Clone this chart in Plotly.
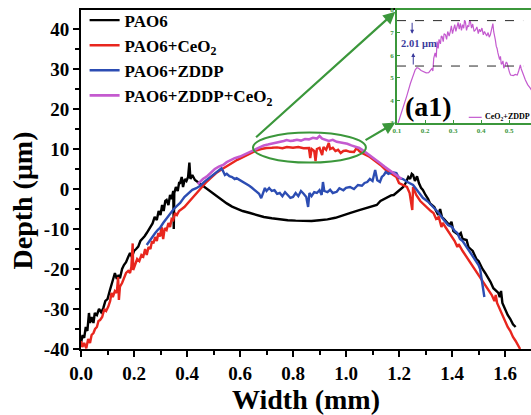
import plotly.graph_objects as go

# ---------------- data ----------------
pao6_x = [0.000,0.006,0.012,0.018,0.024,0.030,0.034,0.040,0.047,0.052,0.060,0.068,0.076,0.084,0.092,0.100,
          0.109,0.115,0.122,0.128,0.135,0.142,0.147,0.155,0.162,0.170,0.178,0.185,0.192,0.200,0.208,0.216,
          0.224,0.232,0.240,0.248,0.256,0.262,0.270,0.278,0.286,0.293,0.300,0.306,0.312,0.318,0.323,0.330,
          0.336,0.342,0.348,0.350,0.352,0.358,0.365,0.370,0.374,0.380,0.385,0.392,0.398,0.404,0.409,0.413,
          0.420,0.430,0.445,0.460,0.474,0.490,0.510,0.530,0.550,0.570,0.590,0.610,0.638,0.660,0.690,0.720,
          0.750,0.780,0.810,0.840,0.870,0.900,0.930,0.960,0.990,1.020,1.050,1.080,1.100,1.116,1.130,1.150,
          1.170,1.180,1.200,1.216,1.225,1.235,1.242,1.248,1.253,1.260,1.268,1.275,1.283,1.290,1.300,1.310,
          1.317,1.325,1.333,1.340,1.348,1.355,1.362,1.370,1.380,1.390,1.398,1.405,1.415,1.425,1.433,1.440,
          1.455,1.462,1.470,1.478,1.485,1.492,1.500,1.506,1.515,1.525,1.535,1.545,1.556,1.565,1.575,1.580,
          1.585,1.590,1.600,1.610,1.620,1.630,1.640]
pao6_y = [-38.5,-36.5,-37.2,-34.5,-35.5,-31.0,-33.5,-32.0,-33.5,-31.0,-31.5,-30.0,-30.8,-29.8,-28.0,-27.5,
          -25.3,-24.0,-21.9,-21.0,-22.5,-21.5,-22.3,-20.0,-19.0,-18.3,-17.0,-16.0,-17.0,-15.5,-15.0,-14.4,
          -13.0,-12.5,-11.8,-11.0,-10.0,-9.4,-8.6,-7.0,-7.75,-5.5,-6.5,-4.0,-5.5,-3.0,-2.75,-4.0,
          -1.5,-2.5,-0.5,-10.0,-1.0,0.5,-0.5,1.5,1.5,3.0,0.5,2.5,2.0,3.0,6.6,2.5,
          3.5,2.25,1.5,0.8,0.2,-0.8,-1.8,-2.8,-3.6,-4.4,-5.0,-5.5,-6.0,-6.5,-7.0,-7.3,
          -7.6,-7.8,-7.9,-8.0,-8.0,-7.8,-7.6,-7.2,-6.5,-5.9,-5.3,-4.7,-4.2,-4.0,-3.0,-2.3,
          -1.6,-1.5,-0.3,0.5,1.5,3.0,2.5,3.8,3.5,2.0,3.2,1.5,0.3,-0.25,-1.5,-2.5,
          -3.6,-4.0,-4.5,-5.5,-6.5,-5.0,-7.0,-7.5,-8.2,-9.0,-8.2,-10.5,-11.0,-11.5,-11.0,-12.5,
          -12.75,-14.5,-15.0,-15.5,-16.5,-17.5,-18.0,-19.0,-20.0,-21.0,-22.0,-23.2,-24.8,-25.5,-26.0,-27.0,
          -25.5,-28.5,-30.0,-31.5,-32.5,-33.8,-34.5]

ceo2_x = [0.000,0.005,0.012,0.020,0.027,0.034,0.040,0.047,0.053,0.060,0.066,0.072,0.080,0.088,0.095,0.103,
          0.110,0.115,0.120,0.128,0.135,0.140,0.143,0.147,0.155,0.162,0.170,0.178,0.185,0.190,0.195,0.197,
          0.205,0.212,0.220,0.228,0.235,0.242,0.248,0.255,0.262,0.268,0.273,0.280,0.286,0.292,0.298,0.304,
          0.310,0.316,0.323,0.330,0.336,0.342,0.348,0.355,0.362,0.370,0.390,0.410,0.425,0.440,0.455,0.474,
          0.490,0.510,0.530,0.550,0.570,0.590,0.610,0.638,0.660,0.680,0.700,0.720,0.740,0.760,0.777,0.800,
          0.820,0.840,0.860,0.865,0.870,0.880,0.885,0.890,0.900,0.910,0.915,0.925,0.935,0.940,0.950,0.960,
          0.970,0.980,0.990,1.000,1.015,1.030,1.040,1.050,1.060,1.075,1.090,1.110,1.130,1.150,1.170,1.190,
          1.200,1.215,1.230,1.240,1.250,1.253,1.265,1.280,1.295,1.310,1.320,1.330,1.340,1.350,1.360,1.365,
          1.380,1.390,1.400,1.410,1.420,1.425,1.440,1.455,1.470,1.485,1.495,1.506,1.520,1.535,1.550,1.560,
          1.565,1.570,1.580,1.590,1.600,1.610,1.620,1.630,1.640,1.650,1.657]
ceo2_y = [-38.0,-39.5,-38.5,-39.8,-37.5,-38.5,-36.5,-36.0,-35.0,-34.5,-33.0,-32.75,-32.0,-30.0,-30.5,-29.4,
          -28.0,-26.0,-27.0,-25.5,-26.0,-22.0,-27.75,-24.4,-23.5,-22.5,-21.0,-20.5,-21.0,-19.5,-13.6,-20.25,
          -18.5,-17.5,-18.0,-16.5,-16.9,-15.0,-16.5,-14.5,-15.0,-13.0,-13.6,-12.0,-13.0,-11.0,-11.9,-9.5,
          -12.5,-9.8,-10.25,-8.5,-9.5,-7.5,-7.75,-6.0,-6.5,-5.5,-4.5,-3.0,-1.8,-0.5,0.5,1.8,
          2.8,4.0,4.9,5.6,6.5,7.3,8.0,9.0,9.6,10.0,10.25,10.3,10.4,10.2,10.5,10.3,
          10.5,10.2,10.25,7.75,10.0,9.5,7.0,10.0,10.3,8.5,10.5,9.8,11.5,10.0,10.3,9.5,
          9.8,9.0,9.5,9.6,9.3,9.25,10.25,9.5,9.0,8.5,8.0,7.0,6.0,4.75,3.8,3.0,
          1.5,1.0,0.5,-1.0,-5.25,0.5,-1.5,-3.0,-4.0,-5.0,-5.5,-6.0,-7.5,-7.0,-9.5,-8.5,
          -10.0,-11.0,-12.0,-13.0,-14.5,-13.8,-15.5,-17.0,-18.5,-20.0,-21.0,-22.0,-23.5,-25.0,-26.5,-28.0,
          -26.5,-28.5,-30.0,-31.5,-33.0,-34.5,-35.5,-37.0,-38.0,-39.2,-40.0]

zddp_x = [0.248,0.260,0.270,0.280,0.290,0.298,0.310,0.320,0.335,0.350,0.362,0.374,0.390,0.405,0.420,0.435,
          0.450,0.465,0.480,0.500,0.515,0.525,0.530,0.535,0.543,0.550,0.560,0.570,0.580,0.587,0.600,0.612,
          0.625,0.635,0.645,0.655,0.663,0.672,0.680,0.687,0.694,0.700,0.710,0.720,0.730,0.740,0.750,0.760,
          0.770,0.780,0.790,0.800,0.810,0.820,0.830,0.840,0.850,0.857,0.862,0.870,0.880,0.890,0.900,0.908,
          0.913,0.918,0.930,0.940,0.950,0.965,0.975,0.990,1.000,1.015,1.030,1.045,1.060,1.070,1.080,1.090,
          1.100,1.110,1.118,1.128,1.135,1.143,1.150,1.160,1.175,1.190,1.200,1.215,1.230,1.253,1.270,1.290,
          1.310,1.330,1.350,1.370,1.385,1.400,1.410,1.420,1.430,1.440,1.455,1.470,1.480,1.490,1.500,1.506,
          1.512,1.518,1.522]
zddp_y = [-14.0,-12.8,-11.8,-11.0,-10.2,-9.75,-8.5,-7.6,-6.2,-5.0,-4.2,-3.5,-2.0,-1.0,-0.2,0.2,
          0.8,1.8,2.6,3.5,4.3,4.9,5.2,4.6,3.5,3.8,3.2,3.0,2.5,2.7,2.2,1.8,
          1.4,0.8,0.3,-0.2,-0.7,-1.2,-2.3,-1.0,0.25,-0.5,0.25,-0.5,-0.3,-1.2,-1.0,-1.8,
          -0.8,-1.5,-2.2,-2.0,-1.0,-1.8,-0.5,-1.2,-2.0,-4.5,-1.0,-1.8,-0.8,-1.0,-0.3,-1.5,
          1.75,-0.5,-0.8,-0.2,-1.0,-0.7,0.2,-0.3,0.3,0.5,0.0,1.0,0.8,1.5,1.75,2.5,
          2.0,4.75,2.2,1.75,3.0,3.5,4.25,3.8,4.2,4.0,2.75,2.5,1.8,1.0,-0.5,-2.2,
          -3.2,-4.5,-6.0,-7.8,-9.0,-9.5,-10.5,-11.0,-12.5,-13.0,-14.5,-16.0,-17.0,-18.0,-19.0,-20.0,
          -22.5,-25.0,-27.0]

both_x = [0.440,0.460,0.474,0.490,0.505,0.520,0.536,0.550,0.565,0.580,0.600,0.620,0.640,0.663,0.675,0.690,
          0.705,0.720,0.735,0.750,0.765,0.776,0.790,0.800,0.815,0.830,0.845,0.860,0.875,0.890,0.900,0.910,
          0.920,0.935,0.950,0.965,0.980,0.990,1.005,1.020,1.035,1.050,1.065,1.080,1.095,1.110,1.128,1.145,
          1.160,1.180,1.200,1.210]
both_y = [1.2,2.5,3.1,4.2,5.0,5.6,6.0,6.7,7.3,7.7,8.1,8.7,9.2,10.0,10.3,10.9,
          11.1,11.3,11.5,11.8,12.0,12.25,12.0,12.1,12.3,12.1,12.5,12.4,12.8,12.6,13.25,12.6,
          12.3,12.0,12.3,11.8,11.6,11.5,11.3,10.9,10.6,10.25,9.6,8.9,8.1,7.3,6.5,5.6,
          4.9,4.0,3.0,2.5]

inset_x = [0.104,0.112,0.124,0.135,0.148,0.158,0.165,0.171,0.177,0.186,0.195,0.204,0.213,0.220,0.225,0.228,
           0.231,0.236,0.240,0.243,0.247,0.250,0.255,0.258,0.261,0.265,0.268,0.273,0.277,0.281,0.286,0.290,
           0.294,0.298,0.302,0.306,0.310,0.314,0.318,0.322,0.326,0.330,0.334,0.338,0.341,0.344,0.348,0.352,
           0.356,0.359,0.362,0.366,0.370,0.375,0.380,0.385,0.390,0.394,0.398,0.403,0.408,0.412,0.415,0.420,
           0.425,0.429,0.433,0.438,0.442,0.445,0.448,0.451,0.454,0.457,0.460,0.463,0.466,0.469,0.472,0.475,
           0.478,0.481,0.486,0.490,0.493,0.497,0.501,0.505,0.515,0.522,0.529,0.534,0.537,0.540,0.543,0.546,
           0.552,0.558,0.566,0.576,0.580]
inset_y = [3.0,3.3,3.72,4.2,4.76,5.1,5.35,5.45,5.42,5.32,5.27,5.22,5.23,5.32,5.42,5.3,
           5.86,6.1,5.9,6.6,6.3,6.7,6.5,6.85,6.82,6.6,6.95,6.9,6.7,7.05,6.85,7.04,
           7.3,6.95,7.19,7.35,7.05,7.26,7.45,7.15,7.41,7.1,7.35,7.19,7.55,7.48,7.1,7.3,
           7.26,7.55,7.48,7.2,7.38,7.05,7.12,7.25,6.95,7.15,7.04,7.2,6.9,7.05,6.97,6.85,
           7.0,6.8,6.9,7.15,7.4,7.04,6.9,6.67,6.4,6.3,6.1,5.93,5.8,5.95,5.6,5.64,
           5.75,5.42,5.55,5.7,5.64,5.4,5.25,5.12,5.1,5.15,5.12,5.3,5.5,5.57,5.4,5.27,
           5.1,4.9,4.7,4.53,4.45]

x_ticks = [0.0, 0.2, 0.4, 0.6, 0.8, 1.0, 1.2, 1.4, 1.6]
y_ticks = [-40, -30, -20, -10, 0, 10, 20, 30, 40]
inset_xticks = [0.1, 0.2, 0.3, 0.4, 0.5]
inset_yticks = [3, 4, 5, 6, 7, 8]
inset_level_hi = 7.53
inset_level_lo = 5.52

# ---------------- styling ----------------
BLACK = "#000000"
RED = "#e8261e"
BLUE = "#2c4db3"
VIOLET = "#c45acf"
GREEN = "#3b973b"
NAVY = "#3a3a9c"
FONT = "Liberation Serif"

fig = go.Figure()
fig.add_trace(go.Scatter(x=pao6_x, y=pao6_y, mode="lines", name="PAO6",
                         line=dict(color=BLACK, width=2.4), legendrank=1))
fig.add_trace(go.Scatter(x=ceo2_x, y=ceo2_y, mode="lines", name="PAO6+CeO<sub>2</sub>",
                         line=dict(color=RED, width=2.4), legendrank=2))
fig.add_trace(go.Scatter(x=zddp_x, y=zddp_y, mode="lines", name="PAO6+ZDDP",
                         line=dict(color=BLUE, width=2.4), legendrank=3))
fig.add_trace(go.Scatter(x=both_x, y=both_y, mode="lines", name="PAO6+ZDDP+CeO<sub>2</sub>",
                         line=dict(color=VIOLET, width=2.6), legendrank=4))
fig.add_trace(go.Scatter(x=inset_x, y=inset_y, mode="lines", name="CeO2+ZDDP",
                         line=dict(color=VIOLET, width=1.2), xaxis="x2", yaxis="y2",
                         showlegend=False))

# dashed level lines in inset
for lv in (inset_level_hi, inset_level_lo):
    fig.add_shape(type="line", xref="x2", yref="y2", x0=0.1, x1=0.55, y0=lv, y1=lv,
                  line=dict(color="#2a2a2a", width=1, dash="dash"))

# ellipse on main plot
fig.add_shape(type="circle", xref="x", yref="y", x0=0.649, x1=1.075, y0=6.6, y1=14.1,
              line=dict(color=GREEN, width=2))

ann = []
# green zoom arrows
ann.append(dict(xref="x", yref="y", axref="x", ayref="y", x=1.186, y=44.3, ax=0.655, ay=12.6,
                showarrow=True, arrowhead=2, arrowsize=1.1, arrowwidth=2.2, arrowcolor=GREEN, text=""))
ann.append(dict(xref="x", yref="y", axref="x", ayref="y", x=1.186, y=16.6, ax=1.068, ay=12.0,
                showarrow=True, arrowhead=2, arrowsize=1.1, arrowwidth=2.2, arrowcolor=GREEN, text=""))
# inset arrows and label
ann.append(dict(xref="x2", yref="y2", axref="x2", ayref="y2", x=0.154, y=6.95, ax=0.154, ay=7.5,
                showarrow=True, arrowhead=2, arrowsize=0.8, arrowwidth=1, arrowcolor=NAVY, text=""))
ann.append(dict(xref="x2", yref="y2", axref="x2", ayref="y2", x=0.158, y=6.1, ax=0.158, ay=5.52,
                showarrow=True, arrowhead=2, arrowsize=0.8, arrowwidth=1, arrowcolor=NAVY, text=""))
ann.append(dict(xref="x2", yref="y2", x=0.18, y=6.52, text="2.01 μm", showarrow=False,
                font=dict(family=FONT, size=10.5, color=NAVY, weight="bold")))
ann.append(dict(xref="x2", yref="y2", x=0.214, y=3.72, text="(a1)", showarrow=False,
                font=dict(family=FONT, size=28, color=BLACK, weight="bold")))
ann.append(dict(xref="x2", yref="y2", x=0.406, y=3.25, xanchor="left", text="CeO<sub>2</sub>+ZDDP",
                showarrow=False, font=dict(family=FONT, size=8, color=BLACK, weight="bold")))
fig.add_shape(type="line", xref="x2", yref="y2", x0=0.356, x1=0.402, y0=3.25, y1=3.25,
              line=dict(color=VIOLET, width=1.2))
# y-axis title
ann.append(dict(xref="paper", yref="paper", x=-0.13, y=0.4366, xanchor="center", yanchor="middle",
                text="Depth (μm)", textangle=-90,
                showarrow=False, font=dict(family=FONT, size=28, color=BLACK, weight="bold")))

tickfont = dict(family=FONT, size=19, color=BLACK, weight="bold")
fig.update_layout(
    width=531, height=415,
    margin=dict(l=81, r=0, t=10, b=66, autoexpand=False),
    paper_bgcolor="white", plot_bgcolor="white",
    showlegend=True,
    legend=dict(x=0.008, y=1.022, xanchor="left", yanchor="top", bgcolor="rgba(0,0,0,0)",
                font=dict(family=FONT, size=17, color=BLACK, weight="bold"),
                tracegroupgap=0, itemwidth=30),
    annotations=ann,
    xaxis=dict(range=[0, 1.698], tickvals=x_ticks, ticktext=[f"{v:.1f}" for v in x_ticks],
               ticks="outside", ticklen=6, tickwidth=2, tickcolor=BLACK, automargin=False,
               minor=dict(dtick=0.1, ticks="outside", ticklen=4, tickwidth=2, tickcolor=BLACK),
               showline=True, linewidth=2, linecolor=BLACK, mirror=True,
               showgrid=False, zeroline=False, tickfont=tickfont,
               title=dict(text="Width (mm)", font=dict(family=FONT, size=28, color=BLACK, weight="bold"),
                          standoff=2)),
    yaxis=dict(range=[-40, 44.75], tickvals=y_ticks, ticktext=[str(v) for v in y_ticks],
               ticks="outside", ticklen=6, tickwidth=2, tickcolor=BLACK, automargin=False,
               minor=dict(dtick=5, ticks="outside", ticklen=4, tickwidth=2, tickcolor=BLACK),
               showline=True, linewidth=2, linecolor=BLACK, mirror=False,
               showgrid=False, zeroline=False, tickfont=tickfont),
    xaxis2=dict(domain=[0.7022, 1.0], anchor="y2", range=[0.1, 0.578], tickvals=inset_xticks,
                ticktext=[f"{v:.1f}" for v in inset_xticks], automargin=False,
                ticks="inside", ticklen=3, tickwidth=1, tickcolor=GREEN,
                showline=True, linewidth=1.5, linecolor=GREEN, mirror=True,
                showgrid=False, zeroline=False,
                tickfont=dict(family=FONT, size=7, color=GREEN, weight="bold")),
    yaxis2=dict(domain=[0.6667, 1.0], anchor="x2", range=[3, 8], tickvals=inset_yticks,
                ticktext=[str(v) for v in inset_yticks], automargin=False,
                ticks="inside", ticklen=3, tickwidth=1, tickcolor=GREEN,
                showline=True, linewidth=1.5, linecolor=GREEN, mirror=True,
                showgrid=False, zeroline=False,
                tickfont=dict(family=FONT, size=7, color=GREEN, weight="bold")),
)

fig.write_html("out.html", config={"displayModeBar": False},
               post_script="document.body.style.margin='0';")
